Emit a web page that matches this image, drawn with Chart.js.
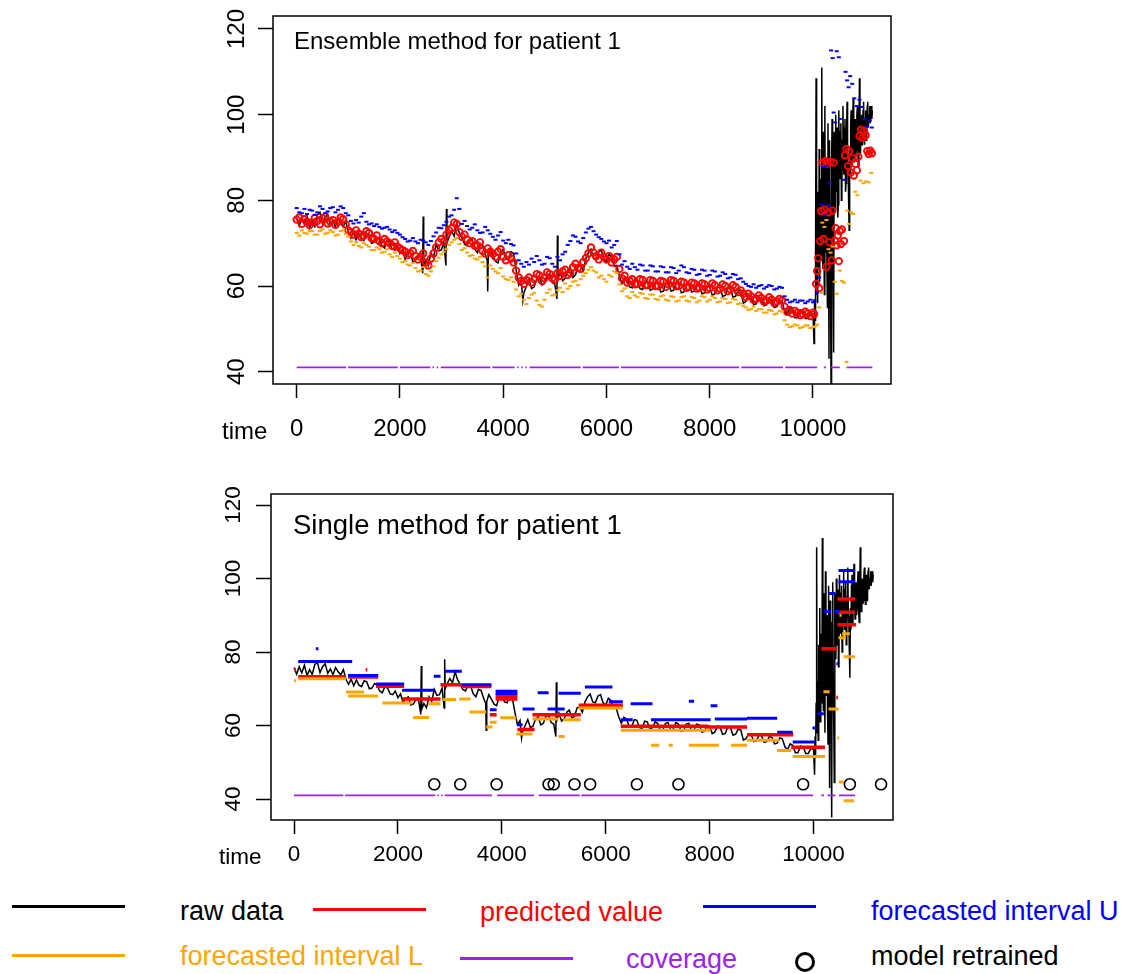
<!DOCTYPE html>
<html lang="en">
<head>
<meta charset="utf-8">
<title>Ensemble and single method, patient 1</title>
<script src="https://cdn.jsdelivr.net/npm/chart.js@4.4.1/dist/chart.umd.min.js"></script>
<style>
  html, body { margin: 0; padding: 0; background: #fff; }
  body { position: relative; width: 1128px; height: 974px; overflow: hidden;
         font-family: "Liberation Sans", Arial, Helvetica, sans-serif; color: #000; }
  canvas { position: absolute; left: 0; }
  .txt { position: absolute; white-space: nowrap; }
  .key { position: absolute; width: 113px; height: 2.5px; }
</style>
</head>
<body>
<canvas id="ensembleChart" width="1128" height="460" style="top:0"></canvas>
<canvas id="singleChart" width="1128" height="420" style="top:470px"></canvas>

<div class="txt" style="left:294px; top:28px; font-size:24px; line-height:26px;">Ensemble method for patient 1</div>
<div class="txt" style="left:293px; top:510px; font-size:27.5px; line-height:30px;">Single method for patient 1</div>
<div class="txt" style="left:222px; top:417px; font-size:24px; line-height:28px;">time</div>
<div class="txt" style="left:219px; top:844px; font-size:22.5px; line-height:26px;">time</div>

<!-- legend -->
<div class="key" style="left:12px; top:905px; background:#000;"></div>
<div class="txt" style="left:180px; top:896px; font-size:27px; line-height:30px;">raw data</div>
<div class="key" style="left:313px; top:908px; background:#FF0000;"></div>
<div class="txt" style="left:480px; top:897px; font-size:27px; line-height:30px; color:#FF0000;">predicted value</div>
<div class="key" style="left:703px; top:905px; background:#0000FF;"></div>
<div class="txt" style="left:871px; top:896px; font-size:27px; line-height:30px; color:#0000FF;">forecasted interval U</div>
<div class="key" style="left:12px; top:954px; background:#FFA500;"></div>
<div class="txt" style="left:180px; top:941px; font-size:27px; line-height:30px; color:#FFA500;">forecasted interval L</div>
<div class="key" style="left:460px; top:957px; background:#A020F0;"></div>
<div class="txt" style="left:626px; top:944px; font-size:27px; line-height:30px; color:#A020F0;">coverage</div>
<div style="position:absolute; left:795px; top:952px; width:14px; height:14px; border:3px solid #000; border-radius:50%;"></div>
<div class="txt" style="left:871px; top:941px; font-size:27px; line-height:30px;">model retrained</div>

<script>
const xTicks = [0, 2000, 4000, 6000, 8000, 10000];
const yTicks = [40, 60, 80, 100, 120];

// raw signal shared by both panels, [time, value]
const rawData = [
  [0,75.8],[50,74.0],[100,76.0],[150,74.3],[200,76.4],[250,73.6],[300,75.2],[350,73.9],[400,76.6],[450,77.2],
  [500,74.4],[550,76.0],[600,76.8],[650,74.2],[700,75.4],[750,73.8],[800,75.8],[850,74.6],[900,73.8],[950,75.2],
  [1000,72.6],[1050,71.2],[1100,72.6],[1150,70.8],[1200,72.4],[1250,71.0],[1300,70.6],[1350,72.2],[1400,71.9],[1450,70.0],
  [1500,70.2],[1550,71.4],[1600,71.0],[1650,69.4],[1700,68.9],[1750,70.6],[1800,70.2],[1850,68.6],[1900,68.4],[1950,69.4],
  [2000,67.6],[2050,68.6],[2100,66.2],[2150,67.4],[2200,67.8],[2250,65.6],[2300,65.9],[2350,67.2],[2400,66.8],[2440,63.0],
  [2450,76.2],[2460,64.5],[2500,66.0],[2550,64.8],[2600,67.8],[2650,66.6],[2700,69.8],[2750,68.2],[2800,68.4],[2850,70.2],
  [2890,64.8],[2900,78.0],[2910,70.0],[2950,71.4],[3000,72.8],[3050,71.6],[3100,74.6],[3150,72.4],[3200,71.2],[3250,69.8],
  [3300,69.4],[3350,71.0],[3400,70.8],[3450,68.6],[3500,67.8],[3550,69.8],[3600,69.6],[3650,67.4],[3690,66.0],[3700,58.7],
  [3710,66.5],[3750,68.4],[3800,67.2],[3850,65.8],[3900,65.4],[3950,67.8],[4000,68.6],[4050,66.4],[4100,66.2],[4150,68.0],
  [4200,67.6],[4250,63.8],[4300,60.2],[4350,61.4],[4380,56.6],[4400,58.4],[4450,60.0],[4500,61.6],[4550,59.4],[4600,59.8],
  [4650,61.8],[4700,62.4],[4750,60.2],[4800,60.6],[4850,62.6],[4900,62.8],[4950,60.8],[5000,60.4],[5040,57.0],[5050,71.8],
  [5060,61.5],[5100,63.4],[5150,61.2],[5200,61.8],[5250,63.6],[5300,64.2],[5350,62.0],[5400,62.6],[5450,64.8],[5500,65.0],
  [5550,63.6],[5600,66.4],[5650,67.8],[5700,68.6],[5750,66.4],[5800,66.2],[5850,68.0],[5900,68.4],[5950,66.2],[6000,65.6],
  [6050,67.4],[6100,66.8],[6150,64.6],[6200,64.8],[6250,62.4],[6300,60.6],[6350,62.2],[6400,61.8],[6450,59.8],[6500,59.6],
  [6550,61.6],[6600,61.4],[6650,59.4],[6700,59.2],[6750,61.2],[6800,61.0],[6850,59.0],[6900,59.4],[6950,61.0],[7000,60.6],
  [7050,58.6],[7100,58.8],[7150,60.6],[7200,60.8],[7250,58.8],[7300,59.0],[7350,60.8],[7400,60.4],[7450,58.4],[7500,58.6],
  [7550,60.4],[7600,60.6],[7650,58.6],[7700,58.8],[7750,60.4],[7800,60.2],[7850,58.2],[7900,58.4],[7950,60.0],[8000,59.8],
  [8050,57.8],[8100,58.2],[8150,59.8],[8200,59.6],[8250,57.6],[8300,57.8],[8350,59.6],[8400,59.4],[8450,57.4],[8500,57.6],
  [8550,59.0],[8600,58.8],[8650,56.0],[8700,56.4],[8750,57.8],[8800,57.6],[8850,55.6],[8900,55.8],[8950,57.4],[9000,57.2],
  [9050,55.4],[9100,55.6],[9150,57.0],[9200,56.8],[9250,55.0],[9300,55.2],[9350,56.6],[9400,56.4],[9450,54.2],[9500,53.4],
  [9550,55.0],[9600,54.6],[9650,52.6],[9700,52.6],[9750,54.4],[9800,54.2],[9850,52.4],[9900,52.4],[9950,53.8],[10000,53.5],
  [10010,50],[10020,46.6],[10030,57],[10040,52],[10050,66],[10060,108.5],[10070,58],[10080,72],[10090,56],[10100,82],
  [10110,64],[10120,92],[10130,61],[10140,78],[10150,85],[10160,66],[10170,111],[10180,70],[10190,64],[10200,96],
  [10210,74],[10220,58],[10230,102],[10240,68],[10250,88],[10260,90],[10270,63],[10280,55],[10290,98],[10300,70],
  [10310,43],[10320,94],[10330,76],[10340,62],[10350,35],[10360,88],[10370,99],[10380,72],[10390,60],[10400,44.5],
  [10410,96],[10420,80],[10430,78],[10440,100],[10450,84],[10460,82],[10470,97],[10480,76],[10490,79],[10500,101],
  [10510,88],[10520,85],[10530,96],[10540,98],[10550,80],[10560,83],[10570,94],[10580,102],[10590,88],[10600,86],
  [10610,97],[10620,99],[10630,82],[10640,84],[10650,95],[10660,103],[10670,90],[10680,88],[10690,80],[10700,73],
  [10710,92],[10720,86],[10730,98],[10740,101],[10750,88],[10760,90],[10770,100],[10780,104],[10790,92],[10800,89],
  [10810,97],[10820,99],[10830,90],[10840,92],[10850,100],[10860,102],[10870,91],[10880,88],[10890,96],[10900,108.5],
  [10910,95],[10920,91],[10930,98],[10940,100],[10950,93],[10960,94],[10970,101],[10980,103],[10990,95],[11000,93],
  [11010,99],[11020,101],[11030,94],[11040,96],[11050,102],[11060,103],[11070,97],[11080,97],[11090,100],[11100,102],
  [11110,98],[11120,98],[11130,102],[11140,99],[11150,101]
];

// ensemble method: predicted value and interval bounds, [time, value]
const ensemblePred = [
  [0,75.5],[50,76.0],[100,74.5],[150,75.6],[200,75.0],[250,74.2],[300,74.8],[350,75.9],[400,75.2],[450,74.4],
  [500,75.8],[550,76.2],[600,74.6],[650,75.0],[700,75.4],[750,74.3],[800,75.0],[850,76.0],[900,75.6],[950,74.4],
  [1000,73.0],[1050,72.6],[1100,72.0],[1150,73.0],[1200,72.2],[1250,71.4],[1300,71.8],[1350,72.8],[1400,72.4],[1450,71.2],
  [1500,71.0],[1550,71.8],[1600,70.5],[1650,70.0],[1700,71.0],[1750,70.4],[1800,70.0],[1850,69.4],[1900,70.2],[1950,69.2],
  [2000,68.8],[2050,68.4],[2100,68.0],[2150,67.2],[2200,67.6],[2250,68.2],[2300,67.0],[2350,66.2],[2400,66.8],[2450,67.6],
  [2500,65.5],[2550,64.8],[2600,66.4],[2650,67.6],[2700,69.0],[2750,70.2],[2800,71.0],[2850,70.4],[2900,72.0],[2950,73.0],
  [3000,73.5],[3050,74.8],[3100,74.5],[3150,72.6],[3200,71.5],[3250,72.0],[3300,70.8],[3350,70.0],[3400,70.5],[3450,69.4],
  [3500,69.5],[3550,70.2],[3600,68.2],[3650,67.6],[3700,68.8],[3750,68.0],[3800,67.5],[3850,66.8],[3900,68.0],[3950,68.6],
  [4000,66.8],[4050,66.0],[4100,67.2],[4150,66.4],[4200,65.5],[4250,63.6],[4300,62.0],[4350,61.2],[4400,60.5],[4450,61.4],
  [4500,62.0],[4550,60.8],[4600,61.6],[4650,62.8],[4700,62.5],[4750,61.2],[4800,61.8],[4850,63.2],[4900,62.8],[4950,61.8],
  [5000,61.5],[5050,63.0],[5100,62.4],[5150,63.4],[5200,63.8],[5250,62.6],[5300,63.0],[5350,64.4],[5400,65.2],[5450,64.2],
  [5500,64.0],[5550,65.6],[5600,66.5],[5650,67.6],[5700,69.0],[5750,67.8],[5800,67.0],[5850,66.2],[5900,67.8],[5950,66.8],
  [6000,66.2],[6050,67.0],[6100,65.5],[6150,66.2],[6200,66.8],[6250,64.0],[6300,61.8],[6350,62.4],[6400,60.8],[6450,61.2],
  [6500,61.6],[6550,60.4],[6600,60.5],[6650,61.6],[6700,61.4],[6750,60.2],[6800,60.2],[6850,61.4],[6900,61.2],[6950,60.0],
  [7000,60.0],[7050,61.2],[7100,61.0],[7150,59.8],[7200,60.4],[7250,61.4],[7300,61.2],[7350,60.0],[7400,60.0],[7450,61.0],
  [7500,60.8],[7550,59.6],[7600,59.8],[7650,60.8],[7700,60.6],[7750,59.4],[7800,59.6],[7850,60.6],[7900,60.4],[7950,59.2],
  [8000,59.5],[8050,60.6],[8100,60.2],[8150,59.0],[8200,59.4],[8250,60.4],[8300,60.0],[8350,58.8],[8400,59.2],[8450,60.2],
  [8500,59.8],[8550,58.6],[8600,59.0],[8650,58.2],[8700,57.5],[8750,58.2],[8800,57.6],[8850,56.8],[8900,57.0],[8950,57.8],
  [9000,57.2],[9050,56.4],[9100,56.6],[9150,57.4],[9200,56.8],[9250,56.0],[9300,56.4],[9350,57.0],[9400,56.6],[9450,55.2],
  [9500,54.0],[9550,54.4],[9600,53.6],[9650,54.2],[9700,53.8],[9750,53.2],[9800,53.4],[9850,54.0],[9900,53.6],[9950,53.0],
  [10000,53.8],[10020,53.4],[10060,60.5],[10080,63.5],[10100,66.5],[10120,59.5],[10140,70.5],[10160,77.5],[10180,88.8],
  [10200,71.0],[10220,77.8],[10240,89.2],[10260,64.5],[10280,88.6],[10300,77.2],[10320,70.2],[10340,89.0],[10360,66.0],
  [10380,77.6],[10400,88.8],[10420,70.6],[10440,73.5],[10460,69.5],[10480,71.8],[10500,65.8],[10520,72.8],[10540,69.8],
  [10560,73.2],[10600,70.5],[10620,90.5],[10650,92.0],[10680,88.0],[10700,91.5],[10730,86.5],[10760,89.8],[10790,85.8],
  [10820,88.5],[10850,87.0],[10880,90.2],[10900,95.0],[10930,96.5],[10960,94.6],[10990,96.2],[11020,95.2],[11050,91.5],
  [11080,90.8],[11110,91.6],[11140,91.0]
];
const ensembleUpper = [
  [0,78.2],[50,77.2],[100,77.0],[150,78.0],[200,76.8],[250,77.8],[300,77.6],[350,76.6],[400,77.2],[450,78.6],
  [500,78.0],[550,77.0],[600,77.4],[650,78.2],[700,78.4],[750,77.2],[800,77.8],[850,78.6],[900,78.2],[950,77.0],
  [1000,76.5],[1050,75.2],[1100,74.6],[1150,75.4],[1200,74.8],[1250,76.2],[1300,77.0],[1350,75.0],[1400,74.4],[1450,74.6],
  [1500,74.0],[1550,74.4],[1600,73.8],[1650,73.4],[1700,73.6],[1750,73.8],[1800,73.2],[1850,72.6],[1900,73.0],[1950,72.4],
  [2000,72.0],[2050,71.4],[2100,71.0],[2150,70.4],[2200,70.6],[2250,71.2],[2300,70.4],[2350,70.0],[2400,70.8],[2450,70.6],
  [2500,70.2],[2550,69.6],[2600,70.5],[2650,71.6],[2700,72.5],[2750,73.6],[2800,73.5],[2850,74.2],[2900,75.0],[2950,76.2],
  [3000,76.5],[3050,77.8],[3100,80.5],[3150,78.0],[3200,74.5],[3250,75.2],[3300,74.0],[3350,73.2],[3400,73.6],[3450,74.4],
  [3500,73.0],[3550,72.4],[3600,72.5],[3650,73.8],[3700,73.0],[3750,72.2],[3800,71.5],[3850,70.8],[3900,71.8],[3950,72.6],
  [4000,70.6],[4050,70.0],[4100,70.8],[4150,69.8],[4200,69.5],[4250,67.6],[4300,66.0],[4350,65.2],[4400,64.5],[4450,65.6],
  [4500,65.0],[4550,66.4],[4600,65.6],[4650,67.0],[4700,66.0],[4750,65.0],[4800,65.2],[4850,66.8],[4900,66.5],[4950,65.2],
  [5000,64.5],[5050,66.8],[5100,66.0],[5150,67.4],[5200,68.0],[5250,69.6],[5300,70.5],[5350,71.8],[5400,71.5],[5450,70.4],
  [5500,70.0],[5550,71.2],[5600,72.5],[5650,73.4],[5700,73.8],[5750,72.8],[5800,72.0],[5850,71.4],[5900,71.0],[5950,70.4],
  [6000,70.0],[6050,70.6],[6100,69.0],[6150,69.6],[6200,70.5],[6250,67.4],[6300,65.0],[6350,65.8],[6400,64.5],[6450,64.0],
  [6500,65.2],[6550,64.4],[6600,63.8],[6650,65.0],[6700,64.8],[6750,63.6],[6800,63.6],[6850,64.8],[6900,64.6],[6950,63.4],
  [7000,63.4],[7050,64.6],[7100,64.4],[7150,63.2],[7200,63.2],[7250,64.4],[7300,64.2],[7350,63.0],[7400,63.6],[7450,64.8],
  [7500,64.4],[7550,63.2],[7600,63.0],[7650,64.0],[7700,63.8],[7750,62.6],[7800,62.8],[7850,63.8],[7900,63.6],[7950,62.4],
  [8000,62.6],[8050,63.6],[8100,63.4],[8150,62.2],[8200,62.4],[8250,63.2],[8300,62.8],[8350,61.8],[8400,62.0],[8450,62.8],
  [8500,62.6],[8550,61.6],[8600,61.8],[8650,61.0],[8700,60.5],[8750,60.0],[8800,59.8],[8850,60.4],[8900,59.6],[8950,60.0],
  [9000,60.2],[9050,59.4],[9100,59.8],[9150,60.2],[9200,60.0],[9250,59.2],[9300,59.4],[9350,59.8],[9400,59.6],[9450,57.6],
  [9500,56.8],[9550,56.2],[9600,56.4],[9650,56.8],[9700,56.2],[9750,56.6],[9800,56.6],[9850,56.0],[9900,56.4],[9950,56.8],
  [10000,56.2],[10030,56.6],[10080,58.6],[10120,62.0],[10170,79.0],[10200,87.8],[10230,76.5],[10260,88.0],
  [10300,78.8],[10330,84.0],[10350,115.0],[10380,113.2],[10400,100.5],[10430,98.2],[10460,114.8],[10500,113.4],[10520,99.0],
  [10600,84.8],[10630,110.0],[10660,108.0],[10690,106.4],[10720,109.0],[10760,107.2],[10800,103.8],[10850,102.0],
  [10900,103.5],[10950,101.8],[11000,99.0],[11050,97.2],[11100,98.6],[11140,97.0]
];
const ensembleLower = [
  [0,72.4],[50,71.8],[100,73.0],[150,72.4],[200,72.2],[250,72.8],[300,72.8],[350,72.0],[400,72.0],[450,72.8],
  [500,73.2],[550,72.2],[600,72.4],[650,73.0],[700,72.6],[750,71.8],[800,72.0],[850,72.8],[900,73.0],[950,72.2],
  [1000,71.5],[1050,70.4],[1100,69.6],[1150,70.2],[1200,69.4],[1250,69.0],[1300,70.0],[1350,69.6],[1400,69.2],[1450,68.4],
  [1500,68.4],[1550,69.0],[1600,68.6],[1650,67.8],[1700,68.0],[1750,68.6],[1800,67.4],[1850,66.8],[1900,67.8],[1950,67.0],
  [2000,66.4],[2050,65.6],[2100,65.8],[2150,65.0],[2200,64.8],[2250,65.4],[2300,64.2],[2350,63.4],[2400,63.6],[2450,64.4],
  [2500,62.8],[2550,62.4],[2600,63.4],[2650,64.6],[2700,65.8],[2750,66.6],[2800,67.4],[2850,68.0],[2900,68.6],[2950,69.6],
  [3000,70.2],[3050,70.8],[3100,71.2],[3150,69.8],[3200,68.4],[3250,68.8],[3300,67.8],[3350,67.0],[3400,67.2],[3450,66.4],
  [3500,66.2],[3550,66.8],[3600,65.6],[3650,64.6],[3700,62.0],[3750,64.8],[3800,64.0],[3850,63.4],[3900,63.0],[3950,64.2],
  [4000,62.2],[4050,61.6],[4100,61.4],[4150,62.0],[4200,61.0],[4250,59.2],[4300,57.6],[4350,58.2],[4400,56.8],[4450,55.8],
  [4500,57.2],[4550,58.0],[4600,58.4],[4650,56.6],[4700,55.6],[4750,55.2],[4800,56.8],[4850,58.4],[4900,59.2],[4950,57.8],
  [5000,58.0],[5050,59.0],[5100,59.6],[5150,58.6],[5200,60.6],[5250,59.4],[5300,60.0],[5350,61.0],[5400,61.2],[5450,60.2],
  [5500,61.6],[5550,62.4],[5600,63.0],[5650,63.8],[5700,64.4],[5750,63.6],[5800,63.2],[5850,62.0],[5900,62.4],[5950,61.6],
  [6000,61.0],[6050,62.6],[6100,62.2],[6150,63.4],[6200,63.0],[6250,60.4],[6300,58.8],[6350,59.4],[6400,57.6],[6450,57.2],
  [6500,58.6],[6550,57.8],[6600,57.4],[6650,58.4],[6700,58.2],[6750,57.2],[6800,57.0],[6850,58.0],[6900,58.0],[6950,57.0],
  [7000,56.8],[7050,57.6],[7100,57.8],[7150,56.8],[7200,56.6],[7250,57.6],[7300,57.4],[7350,56.4],[7400,56.6],[7450,57.4],
  [7500,57.6],[7550,56.6],[7600,56.4],[7650,57.4],[7700,57.2],[7750,56.2],[7800,56.6],[7850,57.6],[7900,57.4],[7950,56.4],
  [8000,56.8],[8050,57.6],[8100,57.2],[8150,56.2],[8200,56.4],[8250,57.2],[8300,57.0],[8350,56.0],[8400,56.2],[8450,57.0],
  [8500,56.8],[8550,55.8],[8600,56.0],[8650,55.4],[8700,55.0],[8750,54.4],[8800,54.6],[8850,55.2],[8900,54.2],[8950,54.6],
  [9000,54.6],[9050,53.8],[9100,53.8],[9150,54.4],[9200,54.2],[9250,53.4],[9300,53.6],[9350,54.2],[9400,54.0],[9450,52.0],
  [9500,51.0],[9550,50.4],[9600,50.6],[9650,51.0],[9700,50.8],[9750,50.2],[9800,50.4],[9850,50.8],[9900,50.8],[9950,50.2],
  [10000,50.4],[10040,50.6],[10080,51.0],[10120,55.0],[10160,58.4],[10180,74.8],[10220,73.8],[10260,75.4],[10300,68.6],
  [10340,67.8],[10380,69.2],[10420,61.0],[10460,58.2],[10520,63.6],[10560,61.2],[10600,60.8],[10650,42.3],[10660,77.6],
  [10700,74.5],[10740,77.2],[10780,76.8],[10820,82.0],[10860,81.2],[10920,84.6],[10980,84.0],[11030,84.4],[11080,84.2],
  [11130,86.4]
];
// stretches [from, to] where the coverage flag is drawn
const ensembleCoverage = [
  [0,960],[995,1960],[2000,2590],[2630,2660],[2710,2740],[2790,3750],[3790,4220],[4270,4300],[4350,4380],[4430,4460],
  [4510,5500],[5540,6240],[6280,8570],[8610,9420],[9460,10080],[10210,10250],[10350,10520],[10650,11150]
];
const coverageLevel = 41;

// single method: constant pieces [from, to, value]
const singlePred = [
  [80,1000,73.3],[1040,1620,73.2],[1580,2120,70.7],[2080,2820,67.2],[2820,3225,71.1],[3225,3800,70.6],[3770,3900,62.9],
  [3880,4300,67.2],[3880,4300,68.0],[4300,4630,58.9],[4590,5520,62.9],[5480,6330,65.5],[6290,7950,59.8],[7950,8720,59.6],
  [8720,9610,57.5],[9570,10220,54.1],[10150,10450,80.9],[10440,10470,67.6],[10460,10800,94.4],[10460,10800,90.8],
  [10460,10820,87.4],[0,40,75.2],[1380,1410,75.2]
];
const singleUpper = [
  [80,1120,77.4],[420,470,80.9],[1040,1620,73.6],[1580,2120,71.3],[2080,2700,69.6],[2690,2820,73.4],[2900,3230,74.8],
  [3225,3800,71.1],[3880,4300,69.3],[3880,4300,68.7],[3770,3900,64.3],[4300,4400,60.2],[4400,4630,64.5],[4690,4900,68.9],
  [4880,5210,64.5],[5090,5520,68.8],[5600,6130,70.5],[6060,6330,66.5],[6290,6520,61.6],[6480,6900,65.9],[6870,8020,61.6],
  [7600,7700,66.6],[8020,8150,65.4],[8100,8720,61.8],[8720,9300,62.0],[9300,9600,58.2],[9600,10020,55.5],
  [9980,10060,59.3],[10080,10200,63.2],[10200,10330,91.0],[10300,10420,95.9],[10400,10500,91.0],[10440,10470,76.8],
  [10480,10800,102.2],[10480,10800,99.1]
];
const singleLower = [
  [80,1000,72.7],[0,40,72.2],[1040,1620,68.0],[1000,1350,69.1],[1700,2280,66.1],[2290,2600,62.2],[2590,2820,65.9],
  [2870,3120,67.1],[3180,3400,67.2],[3380,3700,63.7],[3700,3820,59.6],[3770,3900,60.9],[3970,4280,62.1],[4280,4590,57.7],
  [4590,5090,61.8],[5090,5210,57.0],[5180,5520,61.6],[5480,6330,64.8],[6290,6900,58.7],[6870,7030,54.6],[7210,7290,54.6],
  [6900,8020,58.7],[7600,8180,54.6],[8410,8720,54.6],[8720,9340,56.0],[9300,9570,53.2],[9600,10220,51.6],
  [10190,10310,69.2],[10290,10480,64.5],[10460,10490,56.6],[10490,10580,44.6],[10580,10780,39.5],[10480,10620,83.9],
  [10580,10800,78.7],[10550,10700,85.0],[10500,10540,90.0]
];
const singleCoverage = [
  [0,950],[980,2720],[2760,2790],[2830,2860],[2900,3810],[3910,4620],[4710,5500],[5530,9990],[10150,10200],
  [10270,10420],[10490,10800]
];
const retrainTimes = [2700, 3200, 3900, 4900, 5000, 5400, 5700, 6600, 7400, 9800, 10700, 11300];
const retrainLevel = 44;

const pts = pairs => pairs.map(([x, y]) => ({ x, y }));
const steps = segs => segs.flatMap(([a, b, v]) => [{ x: a, y: v }, { x: b, y: v }, { x: b, y: null }]);
const spans = (segs, v) => segs.flatMap(([a, b]) => [{ x: a, y: v }, { x: b, y: v }, { x: b, y: null }]);

Chart.defaults.font.family = '"Liberation Sans", Arial, Helvetica, sans-serif';
Chart.defaults.color = '#000';

// plot box around the data region
const boxFrame = {
  id: 'boxFrame',
  afterDatasetsDraw(chart) {
    const { ctx, chartArea: a } = chart;
    ctx.save();
    ctx.strokeStyle = '#000';
    ctx.lineWidth = 1.5;
    ctx.strokeRect(a.left, a.top, a.right - a.left, a.bottom - a.top);
    ctx.restore();
  }
};

function makePanel(id, cfg) {
  return new Chart(document.getElementById(id), {
    type: 'line',
    data: { datasets: cfg.datasets },
    options: {
      responsive: false,
      animation: false,
      devicePixelRatio: 1,
      events: [],
      layout: { padding: cfg.padding },
      plugins: { legend: { display: false }, tooltip: { enabled: false } },
      scales: {
        x: {
          type: 'linear',
          min: cfg.xMin,
          max: cfg.xMax,
          afterBuildTicks: s => { s.ticks = xTicks.map(v => ({ value: v })); },
          afterFit: s => { s.height = cfg.xHeight; },
          border: { display: false },
          grid: { drawOnChartArea: false, tickLength: 14, tickWidth: 1.5, tickColor: '#000' },
          ticks: { font: { size: cfg.tickFont }, padding: cfg.xPad, maxRotation: 0, autoSkip: false,
                   callback: v => String(v) }
        },
        y: {
          min: cfg.yMin,
          max: cfg.yMax,
          afterBuildTicks: s => { s.ticks = yTicks.map(v => ({ value: v })); },
          afterFit: s => { s.width = 60; },
          border: { display: false },
          grid: { drawOnChartArea: false, tickLength: 15, tickWidth: 1.5, tickColor: '#000' },
          ticks: { font: { size: cfg.tickFont }, minRotation: 90, maxRotation: 90, crossAlign: 'center',
                   padding: cfg.yPad, callback: v => String(v) }
        }
      }
    },
    plugins: [boxFrame]
  });
}

const rawSet = () => ({ data: pts(rawData), borderColor: '#000', borderWidth: 1.5, pointRadius: 0, order: 6 });
const coverageSet = segs => ({ data: spans(segs, coverageLevel), borderColor: '#A020F0', borderWidth: 1.6,
                               pointRadius: 0, spanGaps: false, order: 2 });
const dashSet = (data, color, order) => ({ data: pts(data), showLine: false, pointStyle: 'line', pointRadius: 2,
                                           pointBorderWidth: 2, pointBorderColor: color, order });
const stepSet = (data, color, width, order) => ({ data: steps(data), borderColor: color, borderWidth: width,
                                                  pointRadius: 0, spanGaps: false, order });

makePanel('ensembleChart', {
  padding: { left: 213, right: 237, top: 16, bottom: 6 },
  xMin: -459, xMax: 11511, yMin: 37.13, yMax: 123.03,
  xHeight: 70, xPad: 17, yPad: 1, tickFont: 24,
  datasets: [
    rawSet(),
    { data: pts(ensemblePred), showLine: false, pointStyle: 'circle', pointRadius: 3.2, pointBorderWidth: 1.9,
      pointBorderColor: '#FF0000', pointBackgroundColor: 'rgba(0,0,0,0)', order: 5 },
    dashSet(ensembleUpper, '#0000FF', 4),
    dashSet(ensembleLower, '#FFA500', 3),
    coverageSet(ensembleCoverage)
  ]
});

makePanel('singleChart', {
  padding: { left: 211, right: 235, top: 24, bottom: 8 },
  xMin: -443, xMax: 11530, yMin: 34.29, yMax: 123.0,
  xHeight: 62, xPad: 7, yPad: 3, tickFont: 22.5,
  datasets: [
    rawSet(),
    stepSet(singlePred, '#FF0000', 3.5, 5),
    stepSet(singleUpper, '#0000FF', 3, 4),
    stepSet(singleLower, '#FFA500', 3, 3),
    coverageSet(singleCoverage),
    { data: retrainTimes.map(t => ({ x: t, y: retrainLevel })), showLine: false, pointStyle: 'circle',
      pointRadius: 5.5, pointBorderWidth: 1.6, pointBorderColor: '#000', pointBackgroundColor: 'rgba(0,0,0,0)', order: 1 }
  ]
});
</script>
</body>
</html>
